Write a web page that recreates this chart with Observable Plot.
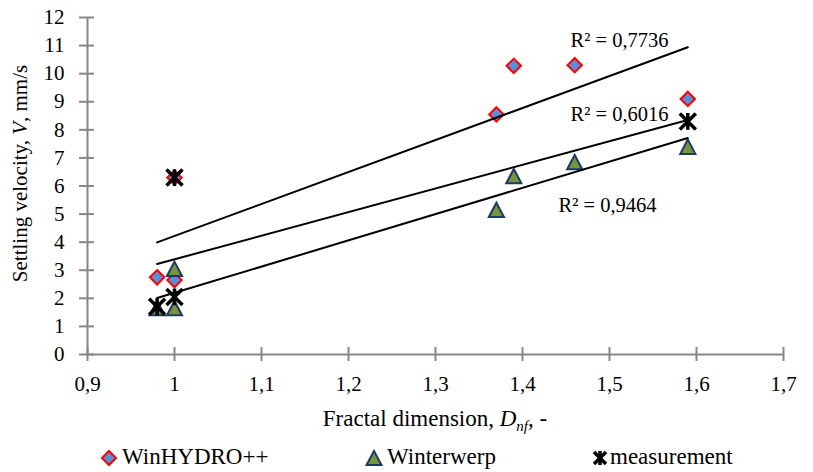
<!DOCTYPE html>
<html><head><meta charset="utf-8">
<script src="https://cdn.jsdelivr.net/npm/d3@7"></script>
<script src="https://cdn.jsdelivr.net/npm/@observablehq/plot@0.6"></script>
<style>
body{margin:0;background:#fff;}
#wrap{position:relative;width:813px;height:472px;overflow:hidden;}
#wrap > svg{position:absolute;left:0;top:0;}
.item{position:absolute;top:445px;height:24px;display:flex;align-items:center;font-size:23px;line-height:24px;color:#000;white-space:nowrap;}
.item svg{position:relative;top:1px;}
</style></head><body><div id="wrap"></div>
<script>
// ---- data ----
const seriesNames = ["WinHYDRO++", "Winterwerp", "measurement"];
const winX = [0.98, 1.0, 1.0, 1.37, 1.39, 1.46, 1.59];
const winY = [2.75, 2.65, 6.3, 8.55, 10.28, 10.3, 9.1];
const wwX  = [0.98, 1.0, 1.0, 1.37, 1.39, 1.46, 1.59];
const wwY  = [1.65, 1.65, 3.05, 5.15, 6.35, 6.85, 7.4];
const measX = [0.98, 1.0, 1.0, 1.59];
const measY = [1.7, 2.05, 6.3, 8.3];
const xTicks = [0.9, 1.0, 1.1, 1.2, 1.3, 1.4, 1.5, 1.6, 1.7];
const yTicks = [0, 1, 2, 3, 4, 5, 6, 7, 8, 9, 10, 11, 12];
const r2Text = ["R² = 0,7736", "R² = 0,6016", "R² = 0,9464"];
const r2X = [1.5115, 1.5115, 1.4977];
const r2Y = [11.18, 8.55, 5.3];

const win = winX.map((x, i) => ({x, y: winY[i]}));
const ww = wwX.map((x, i) => ({x, y: wwY[i]}));
const meas = measX.map((x, i) => ({x, y: measY[i]}));
const r2 = r2Text.map((t, i) => ({x: r2X[i], y: r2Y[i], t}));

const FONT = "Liberation Serif";
const gray = "#878787";
const fmt = d => String(+d.toFixed(1)).replace(".", ",");
const blank = () => "";

// custom symbols
const tri = {draw(ctx, size) {const r = Math.sqrt(size / Math.PI); ctx.moveTo(0, -r); ctx.lineTo(r * 1.05, r); ctx.lineTo(-r * 1.05, r); ctx.closePath();}};
const star = {draw(ctx, size) {const r = Math.sqrt(size / Math.PI);
  ctx.moveTo(-r, -r); ctx.lineTo(r, r); ctx.moveTo(-r, r); ctx.lineTo(r, -r);
  ctx.moveTo(0, -r * 1.05); ctx.lineTo(0, r * 1.05);}};

const chart = Plot.plot({
  width: 813, height: 440,
  marginLeft: 87, marginRight: 30, marginTop: 17, marginBottom: 86,
  x: {domain: [0.9, 1.7], label: null},
  y: {domain: [0, 12], label: null},
  style: {fontFamily: FONT, fontSize: "21px", color: "#000", background: "transparent"},
  marks: [
    Plot.ruleY([0], {stroke: gray, strokeWidth: 2}),
    Plot.ruleX([0.9], {stroke: gray, strokeWidth: 2}),
    Plot.axisX({ticks: xTicks, tickSize: 14, dy: -7, stroke: gray, strokeWidth: 2, tickFormat: blank, label: null}),
    Plot.axisX({ticks: xTicks, tickSize: 0, tickPadding: 22, tickFormat: fmt, fontSize: 21, fill: "#000", label: null}),
    Plot.axisY({ticks: yTicks, tickSize: 15, dx: 7, stroke: gray, strokeWidth: 2, tickFormat: blank, label: null}),
    Plot.axisY({ticks: yTicks, tickSize: 0, tickPadding: 23, tickFormat: fmt, fontSize: 21, fill: "#000", label: null}),
    Plot.dot(win, {x: "x", y: "y", symbol: "diamond2", r: 6.5, fill: "#5a8fd8", stroke: "#ff0000", strokeWidth: 2}),
    Plot.dot(ww, {x: "x", y: "y", symbol: tri, r: 7.2, fill: "#77933c", stroke: "#1b3a68", strokeWidth: 2, strokeLinejoin: "miter"}),
    Plot.dot(meas, {x: "x", y: "y", symbol: star, r: 8, fill: "none", stroke: "#000", strokeWidth: 3.5}),
    Plot.linearRegressionY(win, {x: "x", y: "y", ci: 0, stroke: "#000", strokeWidth: 2}),
    Plot.linearRegressionY(meas, {x: "x", y: "y", ci: 0, stroke: "#000", strokeWidth: 2}),
    Plot.linearRegressionY(ww, {x: "x", y: "y", ci: 0, stroke: "#000", strokeWidth: 2}),
    Plot.text(r2, {x: "x", y: "y", text: "t", fontSize: 20.5, fill: "#000", textAnchor: "middle"})
  ]
});

// axis titles with italic parts
const svg = d3.select(chart);
const yt = svg.append("text").attr("transform", "translate(27,173.5) rotate(-90)")
  .attr("text-anchor", "middle").attr("font-size", 21).attr("fill", "#000");
yt.append("tspan").text("Settling velocity, ");
yt.append("tspan").attr("font-style", "italic").text("V");
yt.append("tspan").text(", mm/s");

const xt = svg.append("text").attr("x", 435).attr("y", 426)
  .attr("text-anchor", "middle").attr("font-size", 23).attr("fill", "#000");
xt.append("tspan").text("Fractal dimension, ");
xt.append("tspan").attr("font-style", "italic").text("D");
xt.append("tspan").attr("font-style", "italic").attr("font-size", 15).attr("dy", 5).text("nf");
xt.append("tspan").attr("dy", -5).text(", -");

// force the serif face on every text node
svg.attr("font-family", FONT).style("font-family", FONT);
svg.selectAll("g, text, tspan").attr("font-family", FONT).style("font-family", FONT);

const wrap = document.getElementById("wrap");
wrap.appendChild(chart);

// legend (HTML)
const legendDefs = [
  {name: seriesNames[0], left: 100, gap: 4, draw: g => g.append("path").attr("d", "M9,2L16,9L9,16L2,9Z").attr("fill", "#5a8fd8").attr("stroke", "#ff0000").attr("stroke-width", 2)},
  {name: seriesNames[1], left: 365, gap: 4, draw: g => g.append("path").attr("d", "M9,2L16.5,16L1.5,16Z").attr("fill", "#77933c").attr("stroke", "#1b3a68").attr("stroke-width", 2)},
  {name: seriesNames[2], left: 591, gap: 1, draw: g => g.append("path").attr("d", "M3,3L15,15M3,15L15,3M9,2L9,16").attr("fill", "none").attr("stroke", "#000").attr("stroke-width", 3.5)}
];
for (const d of legendDefs) {
  const item = d3.select(wrap).append("div").attr("class", "item").style("left", d.left + "px").style("font-family", FONT);
  const s = item.append("svg").attr("width", 18).attr("height", 18).style("margin-right", d.gap + "px");
  d.draw(s);
  item.append("span").style("font-family", FONT).text(d.name);
}
</script>
</body></html>
